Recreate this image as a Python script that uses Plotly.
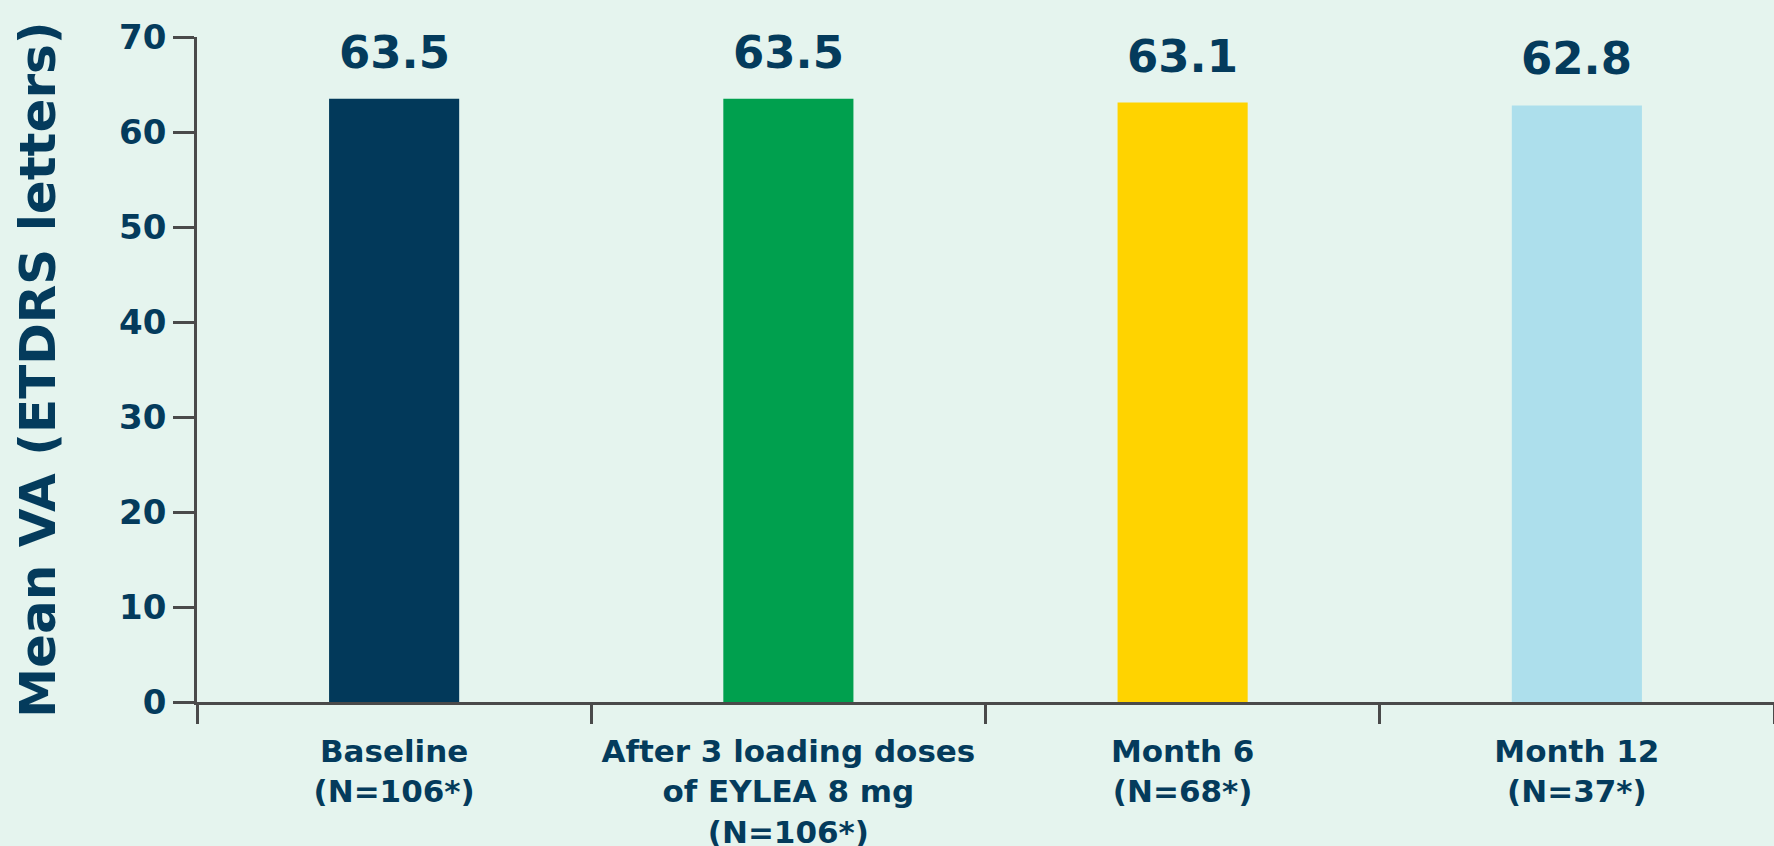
import plotly.graph_objects as go

categories = ["Baseline<br>(N=106*)", "After 3 loading doses<br>of EYLEA 8 mg<br>(N=106*)",
              "Month 6<br>(N=68*)", "Month 12<br>(N=37*)"]
values = [63.5, 63.5, 63.1, 62.8]
labels = ["63.5", "63.5", "63.1", "62.8"]
colors = ["#02395A", "#00A04E", "#FFD300", "#ADDFEC"]
y_ticks = [0, 10, 20, 30, 40, 50, 60, 70]

navy = "#043B5C"
axis_col = "#4A4A4A"
bg = "#E5F4EE"
font_family = "DejaVu Sans"

fig = go.Figure()
fig.add_trace(go.Bar(x=categories, y=values, marker=dict(color=colors, line=dict(width=0)),
                     width=0.33, hoverinfo="skip"))

for c, v, t in zip(categories, values, labels):
    fig.add_annotation(x=c, y=v, text=t, showarrow=False, yanchor="bottom", yshift=18,
                       font=dict(family=font_family, size=45, color=navy, weight="bold"))

fig.update_layout(
    width=1774, height=846,
    paper_bgcolor=bg, plot_bgcolor=bg,
    margin=dict(l=197, r=0, t=37, b=144),
    showlegend=False,
    font=dict(family=font_family, color=navy),
)
fig.update_xaxes(
    range=[-0.5, 3.5], showgrid=False, zeroline=False, automargin=False,
    showline=True, linecolor=axis_col, linewidth=2.5,
    ticks="outside", tickson="boundaries", ticklen=19, tickwidth=2.5, tickcolor=axis_col,
    ticklabelstandoff=20,
    tickfont=dict(family=font_family, size=31, color=navy, weight="bold"),
)
fig.update_yaxes(
    range=[0, 70], tickvals=y_ticks, showgrid=False, zeroline=False, automargin=False,
    showline=True, linecolor=axis_col, linewidth=2.5,
    ticks="outside", ticklen=21, tickwidth=2.5, tickcolor=axis_col,
    tickfont=dict(family=font_family, size=34, color=navy, weight="bold"),
    title=dict(text="Mean VA (ETDRS letters)", standoff=48,
               font=dict(family=font_family, size=50, color=navy, weight="bold")),
)

fig.write_html("out.html", config={"displayModeBar": False},
               post_script="document.body.style.margin='0';document.body.style.background='#E5F4EE';")
